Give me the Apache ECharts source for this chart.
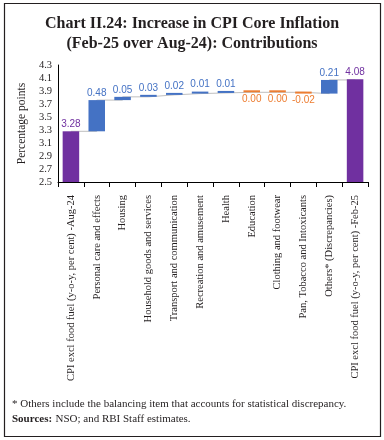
<!DOCTYPE html>
<html><head><meta charset="utf-8">
<script src="https://cdn.jsdelivr.net/npm/echarts@6/dist/echarts.min.js"></script>
<style>html,body{margin:0;padding:0;background:#fff}#c{width:384px;height:440px}</style>
</head><body><div id="c"></div>
<script>
const categories = [
  'CPI excl food fuel (y-o-y, per cent) -Aug-24',
  'Personal care and effects',
  'Housing',
  'Household goods and services',
  'Transport and communication',
  'Recreation and amusement',
  'Health',
  'Education',
  'Clothing and footwear',
  'Pan, Tobacco and Intoxicants',
  'Others* (Discrepancies)',
  'CPI excl food fuel (y-o-y, per cent) -Feb-25'
];
const startValue = 3.28;
const endValue = 4.08;
const contributions = [0.48, 0.05, 0.03, 0.02, 0.01, 0.01, 0.00, 0.00, -0.02, 0.21];
const yTicks = [2.5, 2.7, 2.9, 3.1, 3.3, 3.5, 3.7, 3.9, 4.1, 4.3];

const C_TOTAL = '#7030A0', C_POS = '#4472C4', C_NEG = '#ED7D31';
const serif = '"Liberation Serif", "DejaVu Serif", serif';

const baseData = [], valData = [], lineData = [];
let cum = startValue;
baseData.push(0);
valData.push({value: startValue, itemStyle: {color: C_TOTAL}, _lbl: startValue.toFixed(2), _pos: 'top', _col: C_TOTAL});
lineData.push(cum);
contributions.forEach(d => {
  const next = +(cum + d).toFixed(4);
  const neg = d <= 0;
  baseData.push(Math.min(cum, next));
  valData.push({value: Math.abs(d), itemStyle: {color: neg ? C_NEG : C_POS}, _lbl: d.toFixed(2), _pos: neg ? 'bottom' : 'top', _col: neg ? C_NEG : C_POS});
  cum = next;
  lineData.push(cum);
});
baseData.push(0);
valData.push({value: endValue, itemStyle: {color: C_TOTAL}, _lbl: endValue.toFixed(2), _pos: 'top', _col: C_TOTAL});
lineData.push(endValue);

valData.forEach(v => {
  v.label = {show: true, position: v._pos, color: v._col, formatter: v._lbl, distance: 2};
});

const chart = echarts.init(document.getElementById('c'), null, {renderer: 'canvas'});
chart.setOption({
  animation: false,
  backgroundColor: '#fff',
  title: {
    text: 'Chart II.24: Increase in CPI Core Inflation\n(Feb-25 over Aug-24): Contributions',
    left: 'center', top: 9,
    textStyle: {fontFamily: serif, fontSize: 16, fontWeight: 'bold', color: '#231F20', lineHeight: 20}
  },
  graphic: [
    {type: 'rect', shape: {x: 4.5, y: 3.5, width: 376, height: 433}, style: {fill: null, stroke: '#231F20', lineWidth: 1.2}, z: 100},
    {type: 'text', left: 12, top: 399, style: {text: '* Others include the balancing item that accounts for statistical discrepancy.', font: '11px ' + serif, fill: '#231F20'}},
    {type: 'text', left: 12, top: 413, style: {rich: {b: {fontWeight: 'bold', fontFamily: serif, fontSize: 11, fill: '#231F20'}, n: {fontFamily: serif, fontSize: 11, fill: '#231F20'}}, text: '{b|Sources:} {n|NSO; and RBI Staff estimates.}'}}
  ],
  grid: {left: 58, right: 16, top: 65, bottom: 258, containLabel: false},
  xAxis: {
    type: 'category', data: categories,
    axisLine: {lineStyle: {color: '#000', width: 1}},
    axisTick: {show: true, length: 5, lineStyle: {color: '#000'}},
    axisLabel: {rotate: 90, interval: 0, fontFamily: serif, fontSize: 10.5, color: '#231F20', margin: 13}
  },
  yAxis: {
    type: 'value', min: 2.5, max: 4.3, interval: 0.2,
    name: 'Percentage points', nameLocation: 'middle', nameGap: 30,
    nameTextStyle: {fontFamily: serif, fontSize: 11.5, color: '#231F20'},
    axisLine: {show: true, lineStyle: {color: '#000', width: 1}},
    axisTick: {show: false},
    splitLine: {show: false},
    axisLabel: {fontFamily: serif, fontSize: 10.5, color: '#231F20', margin: 6, formatter: v => (+v).toFixed(1)}
  },
  series: [
    {type: 'line', data: lineData, step: 'end', symbol: 'none', z: 1, lineStyle: {color: '#BFBFBF', width: 1}, silent: true},
    {type: 'bar', stack: 'w', data: baseData, itemStyle: {color: 'transparent'}, barWidth: '64%', z: 2, silent: true},
    {type: 'bar', stack: 'w', data: valData, barWidth: '64%', barMinHeight: 2, z: 3,
     label: {show: true, fontFamily: '"Liberation Sans", Arial, sans-serif', fontSize: 10}}
  ]
});
</script></body></html>
